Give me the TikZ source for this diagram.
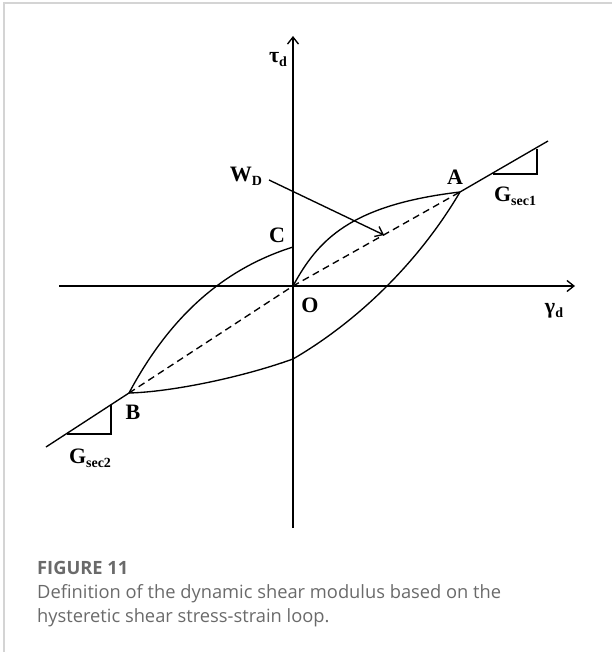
\documentclass[tikz,border=0pt]{standalone}
\usepackage{fontspec}
\setmainfont{Liberation Serif}
\newfontfamily\capfont{Open Sans}
\usetikzlibrary{arrows.meta}
\newcommand\lsub[1]{\raisebox{-0.4ex}{\fontsize{14}{14}\selectfont #1}}
\definecolor{capgray}{HTML}{6A6A6A}
\definecolor{framegray}{HTML}{D4D4D4}
\begin{document}
\begin{tikzpicture}[x=1pt,y=-1pt,
  lbl/.style={font=\bfseries\fontsize{22}{22}\selectfont, inner sep=0pt},
  curve/.style={line width=1.35pt},
  axis/.style={line width=1.35pt, -{Straight Barb[length=7pt,width=11pt]}},
  secant/.style={line width=1.35pt, dash pattern=on 7pt off 4.5pt},
  capt/.style={font=\capfont\fontsize{18.3}{24}\selectfont, text=capgray, inner sep=0pt, anchor=base west, align=left}]
\useasboundingbox (0,0) rectangle (612,652);
% frame
\draw[framegray, line width=1.5pt] (4,652) -- (4,3) -- (612,3);
% key points
\coordinate (O) at (293,286);
\coordinate (A) at (460,192);
\coordinate (B) at (129,393);
\coordinate (C) at (293,247);
\coordinate (D) at (293,359);
\coordinate (ytop) at (293,36);
\coordinate (ybot) at (293,528);
\coordinate (xleft) at (59,286);
\coordinate (xright) at (575,286);
\coordinate (Aend) at (548,141);
\coordinate (Bend) at (46,447);
\coordinate (t1a) at (492.5,174);
\coordinate (t1b) at (537,174);
\coordinate (t1c) at (537,149);
\coordinate (t2a) at (67,434);
\coordinate (t2b) at (111,434);
\coordinate (t2c) at (111,405);
\coordinate (wstart) at (269,180);
\coordinate (wend) at (384,235);
% axes
\draw[axis] (ybot) -- (ytop);
\draw[axis] (xleft) -- (xright);
% secant dashed
\draw[secant] (B) -- (O) -- (A);
% loop
\draw[curve] (O) .. controls (318,240) and (350,205) .. (A);
\draw[curve] (A) .. controls (420,260) and (360,320) .. (D);
\draw[curve] (D) .. controls (240,378) and (170,392) .. (B);
\draw[curve] (B) .. controls (168,320) and (220,270) .. (C);
% tangent lines and triangles
\draw[curve] (A) -- (Aend);
\draw[curve] (B) -- (Bend);
\draw[curve] (t1a) -- (t1b) -- (t1c);
\draw[curve] (t2a) -- (t2b) -- (t2c);
% W_D arrow
\draw[curve, -{Straight Barb[length=7pt,width=11pt]}] (wstart) -- (wend);
% labels
\node[lbl] (ltau) at (278,60) {τ\lsub{d}};
\node[lbl] (lgam) at (554,311) {γ\lsub{d}};
\node[lbl] (lO) at (310,305) {O};
\node[lbl] (lC) at (277,235) {C};
\node[lbl] (lA) at (455,177) {A};
\node[lbl] (lB) at (133,412) {B};
\node[lbl] (lW) at (246,176) {W\lsub{D}};
\node[lbl] (lG1) at (515,196) {G\lsub{sec1}};
\node[lbl] (lG2) at (90,458) {G\lsub{sec2}};
% caption
\node[capt, font=\capfont\bfseries\fontsize{18.3}{24}\selectfont] (fig) at (37,574) {FIGURE 11};
\node[capt] (cap1) at (37,598) {Definition of the dynamic shear modulus based on the};
\node[capt] (cap2) at (37,622) {hysteretic shear stress-strain loop.};
\end{tikzpicture}
\end{document}
